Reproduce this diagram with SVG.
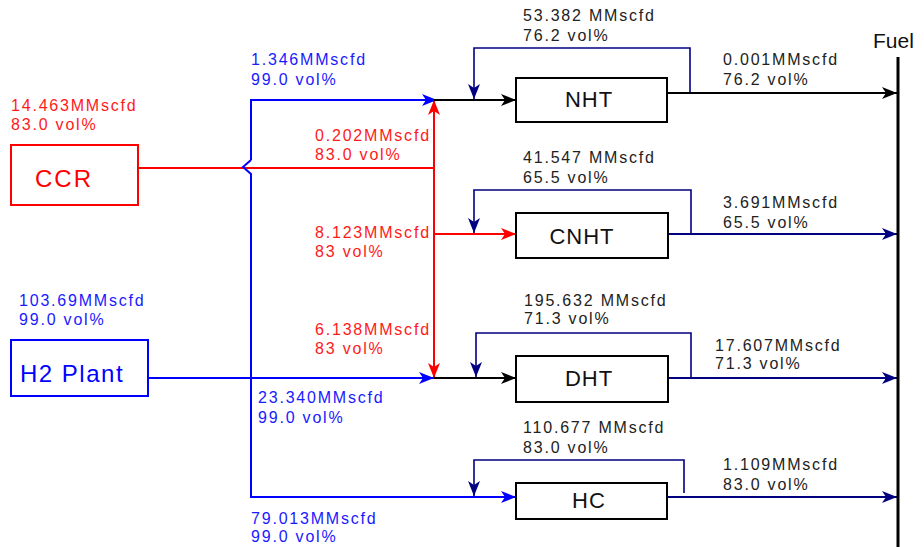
<svg xmlns="http://www.w3.org/2000/svg" width="924" height="547" viewBox="0 0 924 547">
<style>
text{font-family:"Liberation Sans",Arial,sans-serif}
.lb{font-size:16px;letter-spacing:1.8px}
.r{fill:#ff1a1a}.b{fill:#1a1aff}.k{fill:#222}
.box{fill:#fff;stroke:#000;stroke-width:2}
.nm{font-size:22px;letter-spacing:1px;text-anchor:middle;fill:#111}
.ln{fill:none;stroke-width:2}
.rec{fill:none;stroke:#000080;stroke-width:1.6}
</style>
<defs>
<marker id="ak" markerUnits="userSpaceOnUse" markerWidth="16" markerHeight="14" refX="15" refY="7" orient="auto"><path d="M0,1 L15,7 L0,13 L4,7 Z" fill="#000"/></marker>
<marker id="ar" markerUnits="userSpaceOnUse" markerWidth="16" markerHeight="14" refX="15" refY="7" orient="auto"><path d="M0,1 L15,7 L0,13 L4,7 Z" fill="#ff0000"/></marker>
<marker id="ab" markerUnits="userSpaceOnUse" markerWidth="16" markerHeight="14" refX="15" refY="7" orient="auto"><path d="M0,1 L15,7 L0,13 L4,7 Z" fill="#0000ff"/></marker>
<marker id="an" markerUnits="userSpaceOnUse" markerWidth="16" markerHeight="14" refX="15" refY="7" orient="auto"><path d="M0,1 L15,7 L0,13 L4,7 Z" fill="#000080"/></marker>
</defs>

<g id="connectors">
<path class="ln" stroke="#ff0000" d="M138,168 H434"/>
<path class="ln" stroke="#ff0000" d="M434,168 V100" marker-end="url(#ar)"/>
<path class="ln" stroke="#ff0000" d="M434,168 V378" marker-end="url(#ar)"/>
<path class="ln" stroke="#ff0000" d="M434,234 H516" marker-end="url(#ar)"/>
<path class="ln" stroke="#0000ff" d="M148,378 H434" marker-end="url(#ab)"/>
<path class="ln" stroke="#0000ff" d="M251,160 V100 H437" marker-end="url(#ab)"/>
<path class="ln" stroke="#0000ff" d="M251,160 L243,167 L251,174 V497 H516" marker-end="url(#ab)"/>
<path class="ln" stroke="#000" d="M434,100 H516" marker-end="url(#ak)"/>
<path class="ln" stroke="#000" d="M434,378 H516" marker-end="url(#ak)"/>
<path class="rec" d="M690,93 V48 H474 V99" marker-end="url(#an)"/>
<path class="rec" d="M691,234 V190 H474 V233" marker-end="url(#an)"/>
<path class="rec" d="M691,378 V333 H476 V377" marker-end="url(#an)"/>
<path class="rec" d="M684,493 V460 H474 V496" marker-end="url(#an)"/>
<path class="ln" stroke="#000" d="M667,93 H897" marker-end="url(#ak)"/>
<path class="ln" stroke="#000080" d="M668,234 H897" marker-end="url(#an)"/>
<path class="ln" stroke="#000080" d="M668,378 H897" marker-end="url(#an)"/>
<path class="ln" stroke="#000080" d="M667,497 H897" marker-end="url(#an)"/>
</g>

<g id="fuel">
<line x1="898" y1="57" x2="898" y2="547" stroke="#000" stroke-width="3"/>
<text x="873" y="48" font-size="21" fill="#111">Fuel</text>
</g>

<g id="ccr">
<rect x="11" y="145" width="127" height="60" fill="#fff" stroke="#ff0000" stroke-width="2"/>
<text x="35" y="187" font-size="24" letter-spacing="2" fill="#ff0000">CCR</text>
</g>
<g id="h2plant">
<rect x="11" y="340" width="137" height="56" fill="#fff" stroke="#0000ff" stroke-width="2"/>
<text x="20" y="382" font-size="24" letter-spacing="1.5" fill="#0000ff">H2 Plant</text>
</g>
<g id="nht">
<rect class="box" x="516" y="78" width="151" height="44"/>
<text class="nm" x="589" y="107">NHT</text>
</g>
<g id="cnht">
<rect class="box" x="516" y="213" width="152" height="45"/>
<text class="nm" x="582" y="244">CNHT</text>
</g>
<g id="dht">
<rect class="box" x="516" y="356" width="152" height="46"/>
<text class="nm" x="589" y="386">DHT</text>
</g>
<g id="hc">
<rect class="box" x="516" y="483" width="151" height="36"/>
<text class="nm" x="589" y="508">HC</text>
</g>

<g id="labels" class="lb">
<text class="r" x="11" y="111">14.463MMscfd</text>
<text class="r" x="11" y="130">83.0 vol%</text>
<text class="b" x="251" y="65">1.346MMscfd</text>
<text class="b" x="251" y="85">99.0 vol%</text>
<text class="r" x="315" y="141">0.202MMscfd</text>
<text class="r" x="315" y="160">83.0 vol%</text>
<text class="r" x="315" y="238">8.123MMscfd</text>
<text class="r" x="315" y="257">83 vol%</text>
<text class="b" x="19" y="306">103.69MMscfd</text>
<text class="b" x="19" y="325">99.0 vol%</text>
<text class="r" x="315" y="335">6.138MMscfd</text>
<text class="r" x="315" y="354">83 vol%</text>
<text class="b" x="258" y="403">23.340MMscfd</text>
<text class="b" x="258" y="423">99.0 vol%</text>
<text class="b" x="251" y="524">79.013MMscfd</text>
<text class="b" x="251" y="542">99.0 vol%</text>
<text class="k" x="523" y="21">53.382 MMscfd</text>
<text class="k" x="523" y="41">76.2 vol%</text>
<text class="k" x="723" y="65">0.001MMscfd</text>
<text class="k" x="723" y="85">76.2 vol%</text>
<text class="k" x="523" y="163">41.547 MMscfd</text>
<text class="k" x="523" y="183">65.5 vol%</text>
<text class="k" x="723" y="208">3.691MMscfd</text>
<text class="k" x="723" y="228">65.5 vol%</text>
<text class="k" x="524" y="306">195.632 MMscfd</text>
<text class="k" x="524" y="324">71.3 vol%</text>
<text class="k" x="715" y="351">17.607MMscfd</text>
<text class="k" x="715" y="369">71.3 vol%</text>
<text class="k" x="523" y="433">110.677 MMscfd</text>
<text class="k" x="523" y="453">83.0 vol%</text>
<text class="k" x="723" y="470">1.109MMscfd</text>
<text class="k" x="723" y="490">83.0 vol%</text>
</g>
</svg>
